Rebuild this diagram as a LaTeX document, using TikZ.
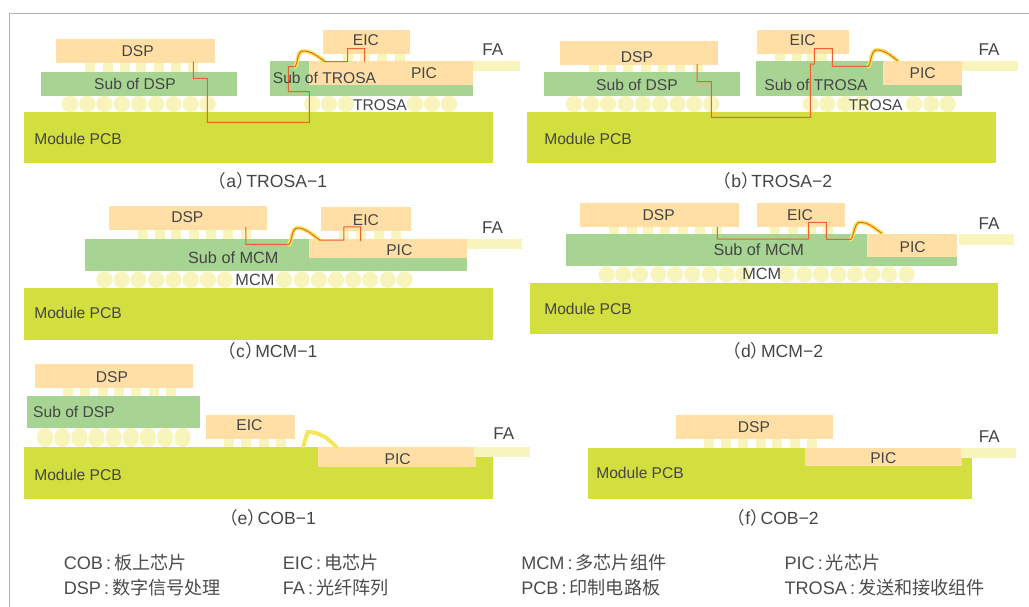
\documentclass[tikz,border=0pt]{standalone}
\usepackage{fontspec}
\setmainfont{Liberation Sans}
\newfontfamily\cjk{Noto Sans CJK SC}
\usetikzlibrary{fit,shapes.geometric}
\definecolor{chipcol}{HTML}{FFDFA6}
\definecolor{subcol}{HTML}{A7D492}
\definecolor{boardcol}{HTML}{D3DE3F}
\definecolor{solder}{HTML}{F7F5BC}
\definecolor{wirecol}{HTML}{F0602C}
\definecolor{bondcol}{HTML}{F2E85A}
\definecolor{inkcol}{HTML}{454545}
\newcommand{\lgcolon}{\,:\,}
\newcommand{\lp}{{\cjk（}}
\newcommand{\rp}{{\cjk）}\kern-0.42em}

\begin{document}
\begin{tikzpicture}[
    x=0.75pt, y=-0.75pt,
    box/.style={inner sep=0pt, outer sep=0pt},
    chip/.style={box, fill=chipcol},
    subst/.style={box, fill=subcol},
    board/.style={box, fill=boardcol},
    fiber/.style={box, fill=solder},
    pad/.style={box, fill=solder, minimum width=7.5pt, minimum height=7.5pt},
    bump/.style={box, ellipse, fill=solder, minimum width=12.2pt, minimum height=12.4pt},
    lbl/.style={inner sep=0pt, text=inkcol, font=\fontsize{11.7}{14}\selectfont},
    mcmlbl/.style={lbl, font=\fontsize{12.2}{14}\selectfont},
    falbl/.style={lbl, font=\fontsize{12.8}{15}\selectfont},
    capt/.style={lbl, font=\fontsize{13.2}{15}\selectfont},
    legend/.style={lbl, anchor=west, text=black!70, font=\fontsize{13.6}{16}\selectfont},
    wire/.style={draw=wirecol, line width=0.75pt},
    bond/.style={draw=bondcol, line width=3pt, line cap=round},
    frameline/.style={draw=black!30, line width=0.8pt},
]
\useasboundingbox (0,0) rectangle (1029,607);
\coordinate (frametl) at (9.5,13.3);
\draw[frameline] (9.5,607) -- (frametl) -- (1029,13.3);

% (a) TROSA-1
\foreach \x [count=\i] in {70,87.3,104.3,121.7,139,156,173.3,190.7,207.7}
  \node[bump] (bumpa\i) at (\x,104) {};
\foreach \x [count=\i] in {312.3,329,346,415,432,449}
  \node[bump] (bumpb\i) at (\x,104) {};
\foreach \x [count=\i] in {90,108,124.7,141,159,176,193}
  \node[pad] (pada\i) at (\x,67.5) {};
\foreach \x [count=\i] in {348,364.5,382,400}
  \node[pad] (padb\i) at (\x,57) {};
\node[board, fit={(24,112) (492.7,163.3)}] (pcba) {};
\node[subst, fit={(40.7,71.7) (237,96)}] (subdspa) {};
\node[chip, fit={(56,39.3) (215,63.3)}] (dspa) {};
\node[subst, fit={(270.3,60.7) (473,96)}] (subtrosaa) {};
\node[chip, fit={(309,60.7) (473,85.3)}] (pica) {};
\node[chip, fit={(323.3,30) (410,54)}] (eica) {};
\node[fiber, fit={(473,61) (520,71.3)}] (faa) {};
\coordinate (wa1) at (193.3,61.7);
\coordinate (wa2) at (295,66.7);
\coordinate (wa3) at (303,51);
\coordinate (wa4) at (325,61.7);
\draw[bond] (wa2) .. controls +(3,-3) and +(-6,0) .. (wa3) .. controls +(8,0) and +(-8,-6) .. (wa4);
\draw[wire] (wa1) |- (207.3,78.3) |- (309.3,122.3) |- (288.3,91.7) |- (wa2)
  .. controls +(3,-3) and +(-6,0) .. (wa3) .. controls +(8,0) and +(-8,-6) .. (wa4)
  -- (347.7,61.7) |- (364.7,48.7) -- (364.7,61.7);
\node[lbl] (ldspa) at (137.7,51) {DSP};
\node[lbl] (lsubdspa) at (135,84) {Sub of DSP};
\node[lbl] (lsubtrosaa) at (324.5,77.5) {Sub of TROSA};
\node[lbl] (leica) at (366,40) {EIC};
\node[lbl] (lpica) at (424,73) {PIC};
\node[lbl] (ltrosaa) at (380,105) {TROSA};
\node[lbl, anchor=west] (lpcba) at (34,139) {Module PCB};
\node[falbl] (lfaa) at (492.7,50) {FA};
\node[capt] (capa) at (268,181) {\lp a\rp TROSA−1};

% (b) TROSA-2
\foreach \x [count=\i] in {574,591,608,625.7,643,660,677.3,694.3,711.3}
  \node[bump] (bumpc\i) at (\x,104) {};
\foreach \x [count=\i] in {810.7,827.3,845,862,914,931,947.7}
  \node[bump] (bumpd\i) at (\x,104) {};
\foreach \x [count=\i] in {594.3,611,628.3,645.7,662.7,679.7,697.7}
  \node[pad] (padc\i) at (\x,67.5) {};
\foreach \x [count=\i] in {780,797,812,822}
  \node[pad] (padd\i) at (\x,57) {};
\node[board, fit={(527.3,112) (995.7,163.3)}] (pcbb) {};
\node[subst, fit={(544,71.7) (740,96)}] (subdspb) {};
\node[chip, fit={(559.7,40.7) (718,65)}] (dspb) {};
\node[subst, fit={(756,61) (962,96)}] (subtrosab) {};
\node[chip, fit={(883,61) (962,85.3)}] (picb) {};
\node[chip, fit={(757,30) (848.7,54)}] (eicb) {};
\node[fiber, fit={(962,61) (1017.7,71.3)}] (fab) {};
\coordinate (wb1) at (697,64);
\coordinate (wb2) at (868.3,66.3);
\coordinate (wb3) at (876.7,50);
\coordinate (wb4) at (897.7,60.7);
\draw[bond] (wb2) .. controls +(3,-3) and +(-6,0) .. (wb3) .. controls +(8,0) and +(-8,-6) .. (wb4);
\draw[wire] (wb1) |- (711.3,81.7) |- (810.3,117.3) |- (814.3,64) |- (832.3,48.7) |- (wb2)
  .. controls +(3,-3) and +(-6,0) .. (wb3) .. controls +(8,0) and +(-8,-6) .. (wb4);
\node[lbl] (ldspb) at (637,57.3) {DSP};
\node[lbl] (lsubdspb) at (637,85) {Sub of DSP};
\node[lbl] (lsubtrosab) at (816,85) {Sub of TROSA};
\node[lbl] (leicb) at (802.7,40) {EIC};
\node[lbl] (lpicb) at (922.7,73) {PIC};
\node[lbl] (ltrosab) at (875.7,105) {TROSA};
\node[lbl, anchor=west] (lpcbb) at (544,139) {Module PCB};
\node[falbl] (lfab) at (989,50) {FA};
\node[capt] (capb) at (773,181) {\lp b\rp TROSA−2};

% (c) MCM-1
\foreach \x [count=\i] in {104.5,121.7,138.6,156.2,173.4,190.7,207.9,224.8,284,301.6,318.8,336,353.3,370.2,387.8,404.7}
  \node[bump] (bumpe\i) at (\x,279.7) {};
\foreach \x [count=\i] in {142.7,159.6,175.8,194.4,211.3,228.2,245.8}
  \node[pad] (pade\i) at (\x,234.5) {};
\foreach \x [count=\i] in {344,361,378.6,396}
  \node[pad] (padf\i) at (\x,235) {};
\node[board, fit={(24,288) (492.5,339.7)}] (pcbc) {};
\node[subst, fit={(84.5,239) (466.5,271)}] (submcmc) {};
\node[chip, fit={(108.9,205.5) (266.7,230.2)}] (dspc) {};
\node[chip, fit={(309.3,239) (466.5,257.9)}] (picc) {};
\node[chip, fit={(320.8,207) (411,231.2)}] (eicc) {};
\node[fiber, fit={(466.5,239) (522,249)}] (fac) {};
\coordinate (wc1) at (245.8,227);
\coordinate (wc2) at (289,244.4);
\coordinate (wc3) at (297.5,228);
\coordinate (wc4) at (319.5,240);
\draw[bond] (wc2) .. controls +(3,-3) and +(-6,0) .. (wc3) .. controls +(8,0) and +(-8,-6) .. (wc4);
\draw[wire] (wc1) |- (wc2)
  .. controls +(3,-3) and +(-6,0) .. (wc3) .. controls +(8,0) and +(-8,-6) .. (wc4)
  -- (343.8,240) |- (360.7,226.8) -- (360.7,241);
\node[lbl] (ldspc) at (187.3,217.6) {DSP};
\node[mcmlbl] (lsubmcmc) at (233.3,258) {Sub of MCM};
\node[mcmlbl] (lmcmc) at (254.9,280) {MCM};
\node[lbl] (leicc) at (366,220.4) {EIC};
\node[lbl] (lpicc) at (399.3,250) {PIC};
\node[lbl, anchor=west] (lpcbc) at (34,313) {Module PCB};
\node[falbl] (lfac) at (492.5,227.5) {FA};
\node[capt] (capc) at (268,351) {\lp c\rp MCM−1};

% (d) MCM-2
\foreach \x [count=\i] in {606.7,623.3,640,658.3,675,692.3,710,726.7,743.3,786.7,804.3,821,838.3,855,872.3,889,906.7}
  \node[bump] (bumpf\i) at (\x,274.5) {};
\foreach \x [count=\i] in {613.7,631.7,648.3,665,683.3,700,716.7}
  \node[pad] (padg\i) at (\x,230.5) {};
\foreach \x [count=\i] in {775,793,811,828}
  \node[pad] (padh\i) at (\x,230.5) {};
\node[board, fit={(530,282.7) (998,333.7)}] (pcbd) {};
\node[subst, fit={(566,234) (957,266.3)}] (submcmd) {};
\node[chip, fit={(580.3,203) (738.7,227)}] (dspd) {};
\node[chip, fit={(757,203) (844.7,227)}] (eicd) {};
\node[chip, fit={(867,234) (957,257)}] (picd) {};
\node[fiber, fit={(959,234) (1014,244.7)}] (fad) {};
\coordinate (wd1) at (717.3,227);
\coordinate (wd2) at (851,239.3);
\coordinate (wd3) at (860,222.3);
\coordinate (wd4) at (881.7,233.3);
\draw[bond] (wd2) .. controls +(3,-3) and +(-6,0) .. (wd3) .. controls +(8,0) and +(-8,-6) .. (wd4);
\draw[wire] (wd1) |- (808.7,239) |- (826.3,222.3) |- (wd2)
  .. controls +(3,-3) and +(-6,0) .. (wd3) .. controls +(8,0) and +(-8,-6) .. (wd4);
\node[lbl] (ldspd) at (658.7,215.3) {DSP};
\node[lbl] (leicd) at (800,215.3) {EIC};
\node[mcmlbl] (lsubmcmd) at (758.7,249.3) {Sub of MCM};
\node[mcmlbl] (lmcmd) at (761.7,274.3) {MCM};
\node[lbl] (lpicd) at (912.7,246.7) {PIC};
\node[lbl, anchor=west] (lpcbd) at (544,308.7) {Module PCB};
\node[falbl] (lfad) at (989,223.7) {FA};
\node[capt] (capd) at (773.3,351) {\lp d\rp MCM−2};

% (e) COB-1
\foreach \x [count=\i] in {45,62.2,79.4,96.3,113.6,130.8,148,165,182.6}
  \node[bump, minimum height=14.7pt] (bumpg\i) at (\x,437.5) {};
\foreach \x [count=\i] in {67.6,84.5,102.8,119.3,135.9,154.2,171}
  \node[pad] (padi\i) at (\x,392) {};
\foreach \x [count=\i] in {228.9,246,264,280.6}
  \node[pad] (padj\i) at (\x,443) {};
\node[board, fit={(24,447.3) (492.5,499.4)}] (pcbe) {};
\node[subst, fit={(26.7,395.6) (199.8,427.7)}] (subdspe) {};
\node[chip, fit={(34.5,364) (193,388)}] (dspe) {};
\node[chip, fit={(205.9,414.8) (295,438.8)}] (eice) {};
\node[chip, fit={(318,447.3) (476,466.6)}] (pice) {};
\node[fiber, fit={(474.3,447.3) (529.7,456.8)}] (fae) {};
\coordinate (we1) at (303.2,446.3);
\coordinate (we2) at (307.6,432);
\coordinate (we3) at (336.4,447.3);
\draw[bond] (we1) -- (we2) .. controls +(12,0) and +(-8,-9) .. (we3);
\node[lbl] (ldspe) at (111.9,377) {DSP};
\node[lbl] (lsubdspe) at (74,411.8) {Sub of DSP};
\node[lbl] (leice) at (249.5,425.3) {EIC};
\node[lbl] (lpice) at (397.6,459) {PIC};
\node[lbl, anchor=west] (lpcbe) at (34,475) {Module PCB};
\node[falbl] (lfae) at (503.7,434) {FA};
\node[capt] (cape) at (268,518) {\lp e\rp COB−1};

% (f) COB-2
\foreach \x [count=\i] in {709,726,743.3,760.7,777.3,795,812.3}
  \node[pad] (padk\i) at (\x,443.5) {};
\node[board, fit={(588,447.7) (972.3,498.7)}] (pcbf) {};
\node[chip, fit={(676,415) (833,439.3)}] (dspf) {};
\node[chip, fit={(804.7,447.7) (962,466.3)}] (picf) {};
\node[fiber, fit={(961,447.7) (1016.3,457.7)}] (faf) {};
\node[lbl] (ldspf) at (754,427) {DSP};
\node[lbl] (lpicf) at (883.3,458.3) {PIC};
\node[lbl, anchor=west] (lpcbf) at (596,473) {Module PCB};
\node[falbl] (lfaf) at (989.3,436.7) {FA};
\node[capt] (capf) at (773.3,518) {\lp f\rp COB−2};

% abbreviations
\node[legend] (lgcob) at (63.5,563) {COB\lgcolon{\cjk 板上芯片}};
\node[legend] (lgdsp) at (63.5,587.3) {DSP\lgcolon{\cjk 数字信号处理}};
\node[legend] (lgeic) at (282.6,563) {EIC\lgcolon{\cjk 电芯片}};
\node[legend] (lgfa) at (282.6,587.3) {FA\lgcolon{\cjk 光纤阵列}};
\node[legend] (lgmcm) at (521,563) {MCM\lgcolon{\cjk 多芯片组件}};
\node[legend] (lgpcb) at (521,587.3) {PCB\lgcolon{\cjk 印制电路板}};
\node[legend] (lgpic) at (784.3,563) {PIC\lgcolon{\cjk 光芯片}};
\node[legend] (lgtrosa) at (784.3,587.3) {TROSA\lgcolon{\cjk 发送和接收组件}};
\end{tikzpicture}
\end{document}
